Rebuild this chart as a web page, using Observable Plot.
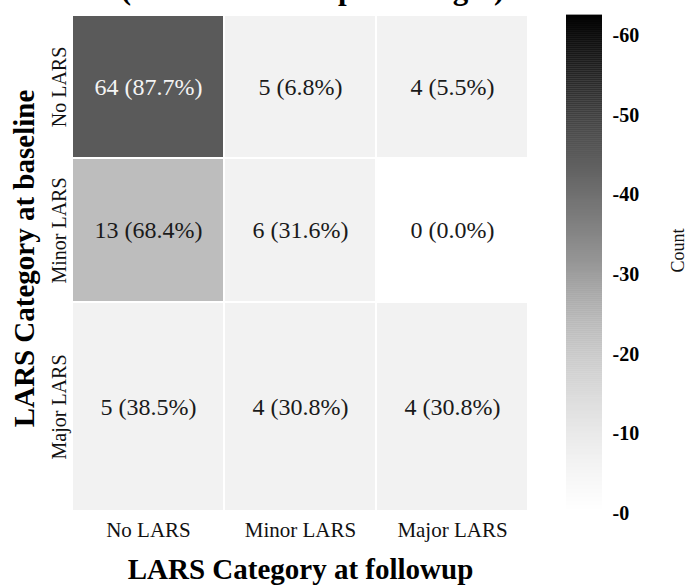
<!DOCTYPE html>
<html>
<head>
<meta charset="utf-8">
<script src="https://cdn.jsdelivr.net/npm/d3@7"></script>
<script src="https://cdn.jsdelivr.net/npm/@observablehq/plot@0.6"></script>
<style>
  body { margin: 0; background: white; }
  #wrap { position: relative; width: 688px; height: 586px; overflow: hidden; }
  #wrap svg { position: absolute; left: 0; top: 0; }
</style>
</head>
<body>
<div id="wrap"></div>
<script>
// ---- data ----
const rowLabels = ["No LARS", "Minor LARS", "Major LARS"];   // baseline
const colLabels = ["No LARS", "Minor LARS", "Major LARS"];   // followup
const noLarsCounts = [64, 5, 4];
const minorLarsCounts = [13, 6, 0];
const majorLarsCounts = [5, 4, 4];
const colorbarTicks = [0, 10, 20, 30, 40, 50, 60];
const titleText = "(Count and row percentages)";

const matrix = [noLarsCounts, minorLarsCounts, majorLarsCounts];
const cells = [];
matrix.forEach((row, i) => {
  const total = d3.sum(row);
  row.forEach((count, j) => {
    cells.push({i, j, count, pct: total ? (100 * count / total) : 0});
  });
});
const label = d => `${d.count} (${d.pct.toFixed(1)}%)`;

const font = "'Liberation Serif', 'DejaVu Serif', serif";

const main = Plot.plot({
  width: 688,
  height: 586,
  marginLeft: 72,
  marginRight: 160,
  marginTop: 15,
  marginBottom: 75,
  style: {fontFamily: font, background: "white", overflow: "visible"},
  x: {type: "linear", domain: [0, 3], axis: null},
  y: {type: "linear", domain: [0, 1, 2, 3], range: [15, 158, 302, 511], axis: null},
  color: {type: "linear", domain: [0, 4, 6, 13, 64],
          range: ["#ffffff", "#f2f2f2", "#f2f2f2", "#bdbdbd", "#5a5a5a"], interpolate: "rgb"},
  marks: [
    Plot.rect(cells, {x1: "j", x2: d => d.j + 1, y1: "i", y2: d => d.i + 1, fill: "count", inset: 1}),
    Plot.text(cells.filter(d => d.count > 40), {x: d => d.j + 0.5, y: d => d.i + 0.5, text: label,
      fill: "#f4f4f4", fontSize: 24}),
    Plot.text(cells.filter(d => d.count <= 40), {x: d => d.j + 0.5, y: d => d.i + 0.5, text: label,
      fill: "#1a1a1a", fontSize: 24}),
    // x tick labels
    Plot.text(colLabels, {x: (d, j) => j + 0.5, frameAnchor: "bottom", dy: 11, lineAnchor: "top",
      textAnchor: "middle", text: d => d, fontSize: 21, fill: "#111"}),
    // y tick labels
    Plot.text(rowLabels, {y: (d, i) => i + 0.5, frameAnchor: "left", dx: -7, lineAnchor: "bottom",
      textAnchor: "middle", rotate: -90, text: d => d, fontSize: 20, fill: "#111"}),
    // axis titles
    Plot.text(["LARS Category at followup"], {frameAnchor: "bottom", dy: 67, lineAnchor: "bottom",
      textAnchor: "middle", text: d => d, fontSize: 29, fontWeight: "bold", fill: "#000"}),
    Plot.text(["LARS Category at baseline"], {frameAnchor: "left", dx: -39, dy: -5, lineAnchor: "bottom",
      textAnchor: "middle", rotate: -90, text: d => d, fontSize: 29, fontWeight: "bold", fill: "#000"}),
    // (cut-off) title
    Plot.text([titleText], {frameAnchor: "top", dx: 12, dy: -17, lineAnchor: "bottom",
      textAnchor: "middle", text: d => d, fontSize: 31, fontWeight: "bold", fill: "#000"})
  ]
});

const steps = d3.range(0, 62.5, 0.25);
const bar = Plot.plot({
  width: 688,
  height: 586,
  marginLeft: 566,
  marginRight: 86,
  marginTop: 15,
  marginBottom: 73,
  style: {fontFamily: font, background: "transparent"},
  x: {domain: [0, 1], axis: null},
  y: {domain: [0, 62.5], axis: null},
  color: {type: "linear", scheme: "greys", domain: [0, 62.5]},
  marks: [
    Plot.rect(steps, {x1: 0, x2: 1, y1: d => d, y2: d => d + 0.3, fill: d => d}),
    Plot.axisY({anchor: "right", ticks: colorbarTicks, tickSize: 0, tickPadding: 10,
      tickFormat: d => "-" + d, fontSize: 20, fontWeight: "bold", label: null, fill: "#000"}),
    Plot.text(["Count"], {frameAnchor: "right", dx: 76, dy: -14, rotate: -90, text: d => d,
      textAnchor: "middle", fontSize: 18, fill: "#111"})
  ]
});

const wrap = document.getElementById("wrap");
wrap.appendChild(main);
wrap.appendChild(bar);
</script>
</body>
</html>
